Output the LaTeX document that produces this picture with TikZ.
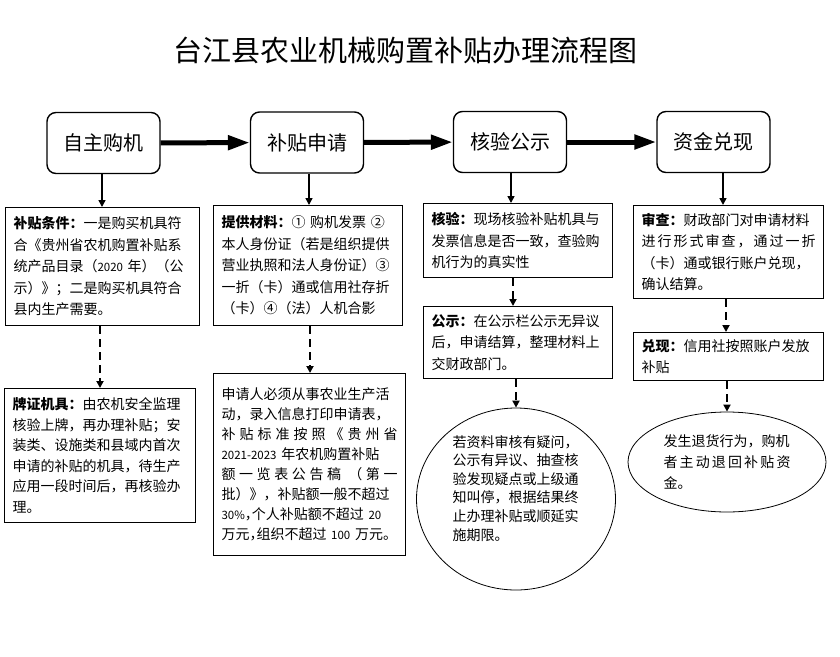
\documentclass[tikz,border=0pt]{standalone}
\usepackage{fontspec}
\setmainfont{Noto Sans CJK SC}
\usetikzlibrary{arrows.meta,shapes.geometric}
\newcommand\hc{\makebox[0.5em][l]{，}}
\newcommand\dg[1]{{\fontsize{11.5}{10}\selectfont #1}}
\begin{document}
\begin{tikzpicture}[x=1pt,y=-1pt,
  topbox/.style={draw, rounded corners=9pt, line width=1.4pt, minimum width=113pt, minimum height=61pt, inner sep=0pt, font=\fontsize{20}{24}\selectfont},
  tb/.style={draw, line width=1.1pt, anchor=north west, inner xsep=8pt, inner ysep=0pt, align=left, font=\fontsize{14}{21.5}\selectfont},
  ell/.style={draw, ellipse, line width=0.8pt, inner sep=0pt, align=left, text width=127pt, font=\fontsize{14}{18.6}\selectfont},
  bigarrow/.style={line width=5pt, -{Triangle[width=14pt,length=22pt]}},
  solidarrow/.style={line width=1.5pt, -{Triangle[width=7pt,length=7pt]}},
  dasharrow/.style={line width=2pt, dash pattern=on 8pt off 5pt, -{Triangle[width=7pt,length=7pt]}}
]
\useasboundingbox (0,0) rectangle (840,656);

\node (title) at (405,50) {\fontsize{29}{32}\selectfont 台江县农业机械购置补贴办理流程图};

\node[topbox] (t1) at (103.5,143) {自主购机};
\node[topbox] (t2) at (307,142.5) {补贴申请};
\node[topbox] (t3) at (510,142) {核验公示};
\node[topbox] (t4) at (713.5,142) {资金兑现};

\draw[bigarrow] (t1) -- (t2);
\draw[bigarrow] (t2) -- (t3);
\draw[bigarrow] (t3) -- (t4);

\node[tb, text width=178pt, minimum width=194pt, minimum height=118pt] (b1) at (5,207)
{\textbf{补贴条件：}一是购买机具符\\
合《贵州省农机购置补贴系\\
统产品目录（\dg{2020}~年）（公\\
示）》；二是购买机具符合\\
县内生产需要。};

\node[tb, text width=173pt, minimum width=189pt, minimum height=120pt] (b2) at (213,205)
{\textbf{提供材料：}①~购机发票~②\\
本人身份证（若是组织提供\\
营业执照和法人身份证）③\\
一折（卡）通或信用社存折\\
（卡）④（法）人机合影};

\node[tb, text width=173pt, minimum width=189pt, minimum height=74pt] (b3) at (423,203)
{\textbf{核验：}现场核验补贴机具与\\
发票信息是否一致，查验购\\
机行为的真实性};

\node[tb, text width=173pt, minimum width=189pt, minimum height=72pt] (b3b) at (423,306)
{\textbf{公示：}在公示栏公示无异议\\
后，申请结算，整理材料上\\
交财政部门。};

\node[tb, text width=174pt, minimum width=190pt, minimum height=93pt] (b4) at (633,205)
{\textbf{审查：}财政部门对申请材料\\
进\hfill 行\hfill 形\hfill 式\hfill 审\hfill 查\hfill ，\hfill 通\hfill 过\hfill 一\hfill 折\\
（卡）通或银行账户兑现，\\
确认结算。};

\node[tb, text width=174pt, minimum width=190pt, minimum height=48pt] (b4b) at (633,332)
{\textbf{兑现：}信用社按照账户发放\\
补贴};

\node[tb, text width=175pt, minimum width=191pt, minimum height=134pt, font=\fontsize{14}{20.5}\selectfont] (b5) at (4,388)
{\textbf{牌证机具：}由农机安全监理\\
核验上牌，再办理补贴；安\\
装类、设施类和县域内首次\\
申请的补贴的机具，待生产\\
应用一段时间后，再核验办\\
理。};

\node[tb, text width=176pt, minimum width=192pt, minimum height=182pt, font=\fontsize{14}{20}\selectfont] (b6) at (213,373)
{申请人必须从事农业生产活\\
动，录入信息打印申请表，\\
补\hfill 贴\hfill 标\hfill 准\hfill 按\hfill 照\hfill 《\hfill 贵\hfill 州\hfill 省\\
\dg{2021-2023}~年农机购置补贴\\
额\hfill 一\hfill 览\hfill 表\hfill 公\hfill 告\hfill 稿\hfill \hfill （\hfill 第\hfill 一\\
批）》，补贴额一般不超过\\
\dg{30\%}\hc 个人补贴额不超过~\dg{20}\\
万元\hc 组织不超过~\dg{100}~万元。};

\node[ell, minimum width=199pt, minimum height=182pt] (e7) at (516,499)
{若资料审核有疑问，\\
公示有异议、抽查核\\
验发现疑点或上级通\\
知叫停，根据结果终\\
止办理补贴或顺延实\\
施期限。\\[4pt]\mbox{}};

\node[ell, minimum width=198pt, minimum height=100pt, font=\fontsize{14}{21}\selectfont] (e8) at (727,462)
{发生退货行为，购机\\
者\hfill 主\hfill 动\hfill 退\hfill 回\hfill 补\hfill 贴\hfill 资\\
金。};

\draw[solidarrow] (t1.south -| 102,0) -- (102,0 |- b1.north);
\draw[solidarrow] (t2.south -| 309,0) -- (309,0 |- b2.north);
\draw[solidarrow] (t3.south -| 511,0) -- (511,0 |- b3.north);
\draw[solidarrow] (t4.south -| 723,0) -- (723,0 |- b4.north);

\draw[dasharrow] (b1.south -| 100,0) -- (100,0 |- b5.north);
\draw[dasharrow] (b2.south -| 310,0) -- (310,0 |- b6.north);
\draw[dasharrow] (b3.south -| 513,0) -- (513,0 |- b3b.north);
\draw[dasharrow] (b3b.south -| 516,0) -- (516,0 |- e7.north);
\draw[dasharrow] (b4.south -| 726,0) -- (726,0 |- b4b.north);
\draw[dasharrow] (b4b.south -| 727,0) -- (727,0 |- e8.north);
\end{tikzpicture}
\end{document}
